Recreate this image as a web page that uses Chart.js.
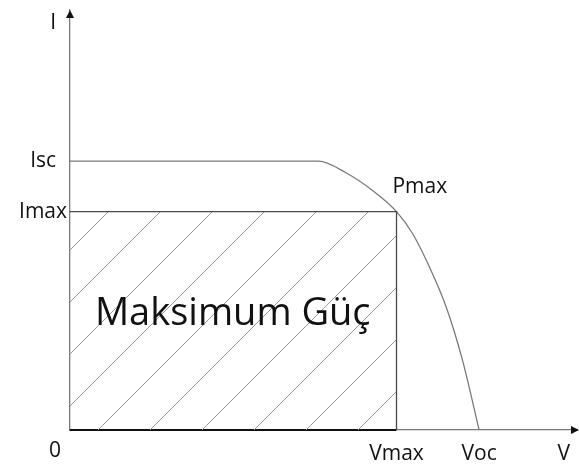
<!DOCTYPE html>
<html>
<head>
<meta charset="utf-8">
<script src="https://cdn.jsdelivr.net/npm/chart.js@4.4.0/dist/chart.umd.min.js"></script>
<style>
  html, body { margin: 0; padding: 0; background: #fff; }
  #wrap { width: 579px; height: 466px; }
</style>
</head>
<body>
<div id="wrap"><canvas id="myChart"></canvas></div>
<script>
// I-V egrisi (yaklasik degerler)
const curveV = [0, 49, 54.5, 59.6, 64.4, 67.5, 70.9, 74.2, 77.4, 80.7];
const curveI = [64, 64, 61.2, 57.1, 52, 46.9, 38.8, 29.3, 16.7, 0];
const Vmax = 64.4;
const Imax = 52;
const Voc = 80.7;
const Isc = 64;
const xTickValues = [Vmax, Voc, 97.4];
const xTickLabels = ['Vmax', 'Voc', 'V'];
const yTickValues = [Imax, Isc, 97];
const yTickLabels = ['Imax', 'Isc', 'I'];

const FONT = "'Open Sans', 'DejaVu Sans', sans-serif";

// tarali alan icin desen (45 derece)
function hatch(ctx) {
    const s = 52;
    const c = document.createElement('canvas');
    c.width = s; c.height = s;
    const g = c.getContext('2d');
    g.strokeStyle = '#999';
    g.lineWidth = 1;
    g.beginPath();
    for (const k of [-1, 0, 1]) {
        g.moveTo(k * s, s);
        g.lineTo(k * s + s, 0);
    }
    g.stroke();
    const p = ctx.createPattern(c, 'repeat');
    p.setTransform(new DOMMatrix().translate(8, 0));
    return p;
}

const extras = {
    id: 'extras',
    afterDraw(chart) {
        const {ctx, chartArea: a, scales: {x, y}} = chart;
        ctx.save();
        ctx.fillStyle = '#111';
        // oklar
        ctx.beginPath();
        ctx.moveTo(a.left, a.top);
        ctx.lineTo(a.left - 4, a.top + 8);
        ctx.lineTo(a.left + 4, a.top + 8);
        ctx.closePath();
        ctx.fill();
        ctx.beginPath();
        ctx.moveTo(a.right + 2, a.bottom);
        ctx.lineTo(a.right - 6, a.bottom - 4);
        ctx.lineTo(a.right - 6, a.bottom + 4);
        ctx.closePath();
        ctx.fill();
        // yazilar
        ctx.fillStyle = '#111';
        ctx.textBaseline = 'middle';
        ctx.font = '21px ' + FONT;
        ctx.textAlign = 'center';
        ctx.fillText('0', x.getPixelForValue(0) - 15, a.bottom + 21);
        ctx.textAlign = 'left';
        ctx.fillText('Pmax', x.getPixelForValue(63.6), y.getPixelForValue(57.9));
        ctx.font = '38px ' + FONT;
        ctx.textAlign = 'center';
        ctx.fillText('Maksimum Güç', x.getPixelForValue(32.1), y.getPixelForValue(27.6));
        ctx.restore();
    }
};

const ctx = document.getElementById('myChart');
const myChart = new Chart(ctx, {
    type: 'scatter',
    data: {
        datasets: [
            {
                data: [{x: 0, y: Imax}, {x: Vmax, y: Imax}, {x: Vmax, y: 0}],
                showLine: true,
                fill: 'origin',
                backgroundColor: hatch(ctx.getContext('2d')),
                borderColor: '#4a4a4a',
                borderWidth: 1.3,
                pointRadius: 0
            },
            {
                data: [{x: 0, y: 0}, {x: Vmax, y: 0}],
                showLine: true,
                borderColor: '#111',
                borderWidth: 2,
                pointRadius: 0
            },
            {
                data: curveV.map((v, i) => ({x: v, y: curveI[i]})),
                showLine: true,
                borderColor: '#7a7a7a',
                borderWidth: 1.3,
                pointRadius: 0,
                cubicInterpolationMode: 'monotone'
            }
        ]
    },
    options: {
        responsive: true,
        maintainAspectRatio: false,
        animation: false,
        clip: false,
        layout: { padding: { top: 10, right: 2, left: 0, bottom: 0 } },
        plugins: {
            legend: { display: false },
            tooltip: { enabled: false }
        },
        scales: {
            x: {
                type: 'linear',
                min: 0,
                max: 100,
                afterFit: s => { s.height = 36; s.paddingLeft = 0; s.paddingRight = 0; },
                afterBuildTicks: s => { s.ticks = xTickValues.map(v => ({value: v})); },
                grid: { display: false, drawTicks: false },
                border: { display: true, color: '#7a7a7a', width: 1.3 },
                ticks: {
                    padding: 11,
                    color: '#111',
                    font: { family: FONT, size: 21 },
                    maxRotation: 0,
                    autoSkip: false,
                    callback: (v, i) => xTickLabels[i]
                }
            },
            y: {
                type: 'linear',
                min: 0,
                max: 100,
                afterFit: s => { s.width = 70; s.paddingTop = 0; s.paddingBottom = 0; },
                afterBuildTicks: s => { s.ticks = yTickValues.map(v => ({value: v})); },
                grid: { display: false, drawTicks: false },
                border: { display: true, color: '#7a7a7a', width: 1.3 },
                ticks: {
                    padding: 3,
                    color: '#111',
                    font: { family: FONT, size: 21 },
                    autoSkip: false,
                    callback: (v, i) => yTickLabels[i] + (i > 0 ? '\u00a0\u00a0' : '')
                }
            }
        }
    },
    plugins: [extras]
});
</script>
</body>
</html>
